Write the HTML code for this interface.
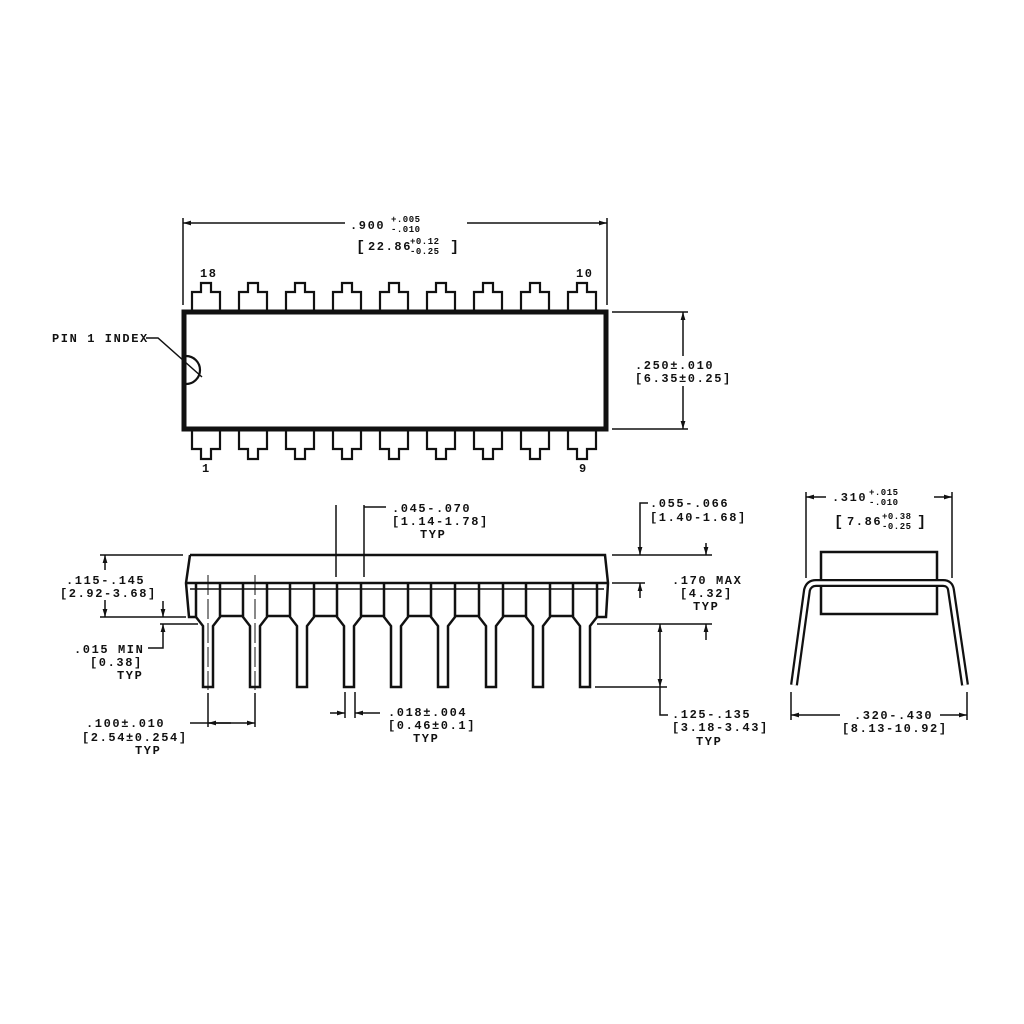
<!DOCTYPE html>
<html><head><meta charset="utf-8"><style>
html,body{margin:0;padding:0;background:#fff}
svg{display:block}
text{font-family:"Liberation Mono",monospace;font-size:12px;font-weight:bold;letter-spacing:1.6px;fill:#111}
.s{font-size:9px;letter-spacing:0.5px}
</style></head><body>
<svg width="1024" height="1024" viewBox="0 0 1024 1024" xmlns="http://www.w3.org/2000/svg">
<defs>
<marker id="a" viewBox="0 0 10 10" refX="10" refY="5" markerWidth="8" markerHeight="8" orient="auto-start-reverse" markerUnits="userSpaceOnUse"><path d="M0,2 L10,5 L0,8 z" fill="#111"/></marker>
</defs>
<g stroke="#111" fill="none" stroke-width="1.5">
<!-- TOP VIEW -->
<line x1="183" y1="218" x2="183" y2="305"/>
<line x1="607" y1="218" x2="607" y2="305"/>
<line x1="183" y1="223" x2="345" y2="223" marker-start="url(#a)"/>
<line x1="467" y1="223" x2="607" y2="223" marker-end="url(#a)"/>
<line x1="612" y1="312" x2="688" y2="312"/>
<line x1="612" y1="429" x2="688" y2="429"/>
<line x1="683" y1="312" x2="683" y2="356" marker-start="url(#a)"/>
<line x1="683" y1="386" x2="683" y2="429" marker-end="url(#a)"/>
<rect x="184" y="312" width="422" height="117" stroke-width="5"/>
<g stroke-width="2.2">
<path id="pt" d="M-14,311 V292 H-5 V283 H5 V292 H14 V311" transform="translate(206,0)"/>
<use href="#pt" x="47"/><use href="#pt" x="94"/><use href="#pt" x="141"/><use href="#pt" x="188"/><use href="#pt" x="235"/><use href="#pt" x="282"/><use href="#pt" x="329"/><use href="#pt" x="376"/>
<path id="pb" d="M-14,431 V449 H-5 V459 H5 V449 H14 V431" transform="translate(206,0)"/>
<use href="#pb" x="47"/><use href="#pb" x="94"/><use href="#pb" x="141"/><use href="#pb" x="188"/><use href="#pb" x="235"/><use href="#pb" x="282"/><use href="#pb" x="329"/><use href="#pb" x="376"/>
<path d="M186,356 A14,14 0 0 1 186,384"/>
</g>
<path d="M146,338 H158 L202,377"/>
<!-- SIDE VIEW -->
<g stroke-width="2.5">
<path d="M190,555 H605 L608,583 L606,617 H596"/>
<path d="M190,555 L186,583 L189,617 H196"/>
<line x1="186" y1="583" x2="608" y2="583"/>
<line x1="190" y1="589" x2="604" y2="589" stroke-width="1.5"/>
<path id="ps" d="M-12,583 V617 L-5,626 V687 H5 V626 L12,617 V583" transform="translate(208,0)"/>
<use href="#ps" x="47"/><use href="#ps" x="94"/><use href="#ps" x="141"/><use href="#ps" x="188"/><use href="#ps" x="235"/><use href="#ps" x="283"/><use href="#ps" x="330"/><use href="#ps" x="377"/>
<g id="sq"><line x1="220" y1="616" x2="243" y2="616"/></g>
<use href="#sq" x="47"/><use href="#sq" x="94"/><use href="#sq" x="141"/><use href="#sq" x="188"/><use href="#sq" x="235"/><use href="#sq" x="283"/><use href="#sq" x="330"/>
</g>
<line x1="208" y1="575" x2="208" y2="690" stroke-width="1" stroke-dasharray="20,4"/>
<line x1="255" y1="575" x2="255" y2="690" stroke-width="1" stroke-dasharray="20,4"/>
<line x1="336" y1="505" x2="336" y2="577"/>
<line x1="364" y1="505" x2="364" y2="577"/>
<path d="M364,507 H386"/>
<!-- right side dims -->
<path d="M648,503 H640 V555" marker-end="url(#a)"/>
<line x1="612" y1="555" x2="712" y2="555"/>
<line x1="706" y1="543" x2="706" y2="555" marker-end="url(#a)"/>
<line x1="612" y1="583" x2="645" y2="583"/>
<line x1="640" y1="598" x2="640" y2="583" marker-end="url(#a)"/>
<line x1="597" y1="624" x2="712" y2="624"/>
<line x1="706" y1="640" x2="706" y2="624" marker-end="url(#a)"/>
<line x1="595" y1="687" x2="667" y2="687"/>
<line x1="660" y1="655" x2="660" y2="624" marker-end="url(#a)"/>
<line x1="660" y1="655" x2="660" y2="687" marker-end="url(#a)"/>
<path d="M660,687 V715 H668"/>
<!-- left dims -->
<line x1="100" y1="555" x2="183" y2="555"/>
<line x1="100" y1="617" x2="186" y2="617"/>
<line x1="105" y1="570" x2="105" y2="555" marker-end="url(#a)"/>
<line x1="105" y1="600" x2="105" y2="617" marker-end="url(#a)"/>
<line x1="160" y1="624" x2="198" y2="624"/>
<line x1="163" y1="601" x2="163" y2="617" marker-end="url(#a)"/>
<path d="M148,648 H163 V624" marker-end="url(#a)"/>
<line x1="208" y1="693" x2="208" y2="727"/>
<line x1="255" y1="693" x2="255" y2="727"/>
<line x1="190" y1="723" x2="255" y2="723" marker-end="url(#a)"/>
<line x1="231" y1="723" x2="208" y2="723" marker-end="url(#a)"/>
<line x1="345" y1="692" x2="345" y2="718"/>
<line x1="355" y1="692" x2="355" y2="718"/>
<line x1="330" y1="713" x2="345" y2="713" marker-end="url(#a)"/>
<line x1="380" y1="713" x2="355" y2="713" marker-end="url(#a)"/>
<!-- END VIEW -->
<rect x="821" y="552" width="116" height="62" stroke-width="2.5"/>
<path d="M794,685 L807,590 Q809,583 816,583 H943 Q950,583 951,590 L965,685" stroke-width="8"/>
<path d="M794,685 L807,590 Q809,583 816,583 H943 Q950,583 951,590 L965,685" stroke="#fff" stroke-width="3.5"/>
<line x1="806" y1="492" x2="806" y2="578"/>
<line x1="952" y1="492" x2="952" y2="578"/>
<line x1="826" y1="497" x2="806" y2="497" marker-end="url(#a)"/>
<line x1="934" y1="497" x2="952" y2="497" marker-end="url(#a)"/>
<line x1="791" y1="692" x2="791" y2="720"/>
<line x1="967" y1="692" x2="967" y2="720"/>
<line x1="840" y1="715" x2="791" y2="715" marker-end="url(#a)"/>
<line x1="940" y1="715" x2="967" y2="715" marker-end="url(#a)"/>
</g>
<!-- TEXT -->
<text x="350" y="229">.900</text><text class="s" x="391" y="222">+.005</text><text class="s" x="391" y="232">-.010</text>
<text x="356" y="251" style="font-size:15px">[</text><text x="368" y="250">22.86</text><text class="s" x="410" y="244">+0.12</text><text class="s" x="410" y="254">-0.25</text><text x="450" y="251" style="font-size:15px">]</text>
<text x="200" y="277">18</text><text x="576" y="277">10</text>
<text x="202" y="472">1</text><text x="579" y="472">9</text>
<text x="52" y="342">PIN 1 INDEX</text>
<text x="635" y="369">.250±.010</text><text x="635" y="382">[6.35±0.25]</text>
<text x="392" y="512">.045-.070</text><text x="392" y="525">[1.14-1.78]</text><text x="420" y="538">TYP</text>
<text x="650" y="507">.055-.066</text><text x="650" y="521">[1.40-1.68]</text>
<text x="672" y="584">.170 MAX</text><text x="680" y="597">[4.32]</text><text x="693" y="610">TYP</text>
<text x="672" y="718">.125-.135</text><text x="672" y="731">[3.18-3.43]</text><text x="696" y="745">TYP</text>
<text x="66" y="584">.115-.145</text><text x="60" y="597">[2.92-3.68]</text>
<text x="74" y="653">.015 MIN</text><text x="90" y="666">[0.38]</text><text x="117" y="679">TYP</text>
<text x="86" y="727">.100±.010</text><text x="82" y="741">[2.54±0.254]</text><text x="135" y="754">TYP</text>
<text x="388" y="716">.018±.004</text><text x="388" y="729">[0.46±0.1]</text><text x="413" y="742">TYP</text>
<text x="832" y="501">.310</text><text class="s" x="869" y="495">+.015</text><text class="s" x="869" y="505">-.010</text>
<text x="834" y="526" style="font-size:15px">[</text><text x="847" y="525">7.86</text><text class="s" x="882" y="519">+0.38</text><text class="s" x="882" y="529">-0.25</text><text x="917" y="526" style="font-size:15px">]</text>
<text x="854" y="719">.320-.430</text><text x="842" y="732">[8.13-10.92]</text>
</g>
</svg>
</body></html>
